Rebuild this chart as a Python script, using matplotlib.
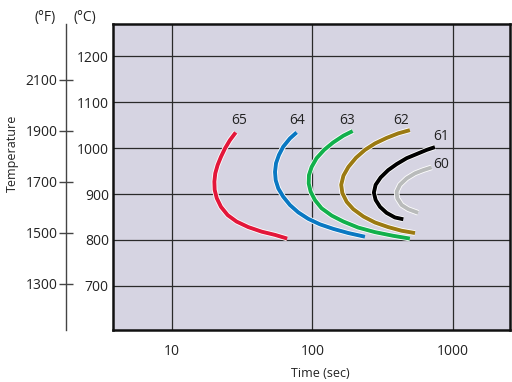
import matplotlib
matplotlib.use('Agg')
import matplotlib.pyplot as plt
import matplotlib.patheffects as pe
import numpy as np

plt.rcParams['font.family'] = ['Open Sans', 'DejaVu Sans']

# TTT curves, time in seconds, temperature in degC
grades = ['65', '64', '63', '62', '61', '60']
colors = ['#e3173a', '#0a78c2', '#12b04c', '#9b7a12', '#000000', '#b9bbbb']

t_65 = [28.5, 25.9, 23.9, 22.4, 21.2, 20.4, 20.1, 20.2, 20.9, 22.4, 25.0,
        28.9, 35.0, 43.6, 54.2, 66.2]
c_65 = [1034, 1017, 999, 981, 963, 945, 927, 909, 891, 872, 854,
        840, 828, 818, 811, 803]

t_64 = [77.2, 69.2, 62.0, 57.8, 55.1, 54.2, 54.8, 57.2, 62.0, 69.2, 79.3,
        93.3, 113, 141, 180, 236]
c_64 = [1034, 1021, 1003, 985, 967, 948, 930, 912, 894, 876, 860,
        846, 834, 824, 815, 807]

t_63 = [193, 166, 140, 121, 107, 98.7, 94.4, 94.0, 97.1, 104, 116,
        137, 166, 211, 278, 375, 492]
c_63 = [1037, 1027, 1012, 996, 978, 959, 941, 923, 905, 887, 869,
        853, 840, 827, 817, 809, 803]

t_62 = [492, 407, 336, 278, 236, 204, 180, 166, 160, 163, 175,
        195, 230, 278, 345, 430, 535]
c_62 = [1039, 1032, 1022, 1010, 996, 979, 959, 940, 920, 902, 883,
        867, 851, 838, 828, 820, 815]

t_61 = [741, 647, 550, 467, 396, 345, 305, 281, 273, 281, 302, 336, 385, 442]
c_61 = [1002, 996, 987, 978, 965, 952, 936, 920, 903, 887, 872, 859, 849, 845]

t_60 = [703, 612, 535, 467, 418, 396, 400, 430, 479, 564]
c_60 = [958, 952, 945, 934, 920, 905, 891, 876, 867, 859]

label_t = [30, 77.5, 177, 428, 822, 822]
label_c = [1059, 1059, 1059, 1059, 1026, 965]

c_ticks = [700, 800, 900, 1000, 1100, 1200]
f_ticks = [1300, 1500, 1700, 1900, 2100]
t_ticks = [10, 100, 1000]


def c2f(c):
    return np.asarray(c) * 9. / 5. + 32.


def f2c(f):
    return (np.asarray(f) - 32.) * 5. / 9.


fig = plt.figure(figsize=(5.12, 3.82), dpi=100)
W, H = 512., 382.
ax = fig.add_axes([113 / W, 1 - 330 / H, (510 - 113) / W, (330 - 24) / H])
ax.set_facecolor('#d6d4e2')

ax.set_xscale('log')
ax.set_xlim(3.83, 2530)
ax.set_ylim(604, 1270)
ax.set_xticks(t_ticks)
ax.set_xticklabels([str(t) for t in t_ticks])
ax.minorticks_off()
ax.set_yticks(c_ticks)
ax.tick_params(axis='both', length=0, labelsize=10, colors='#222222')
ax.tick_params(axis='x', pad=10)
ax.tick_params(axis='y', pad=3)
ax.grid(True, color='#2a2a2a', lw=0.9)
ax.set_axisbelow(True)
for s in ax.spines.values():
    s.set_linewidth(1.8)
    s.set_color('#111111')

series = [(t_65, c_65), (t_64, c_64), (t_63, c_63),
          (t_62, c_62), (t_61, c_61), (t_60, c_60)]
for (t, c), col in zip(series, colors):
    ax.plot(t, c, color=col, lw=2.8, solid_capstyle='butt',
            solid_joinstyle='round',
            path_effects=[pe.Stroke(linewidth=4.0, foreground='white'),
                          pe.Normal()])

for g, lt, lc in zip(grades, label_t, label_c):
    ax.text(lt, lc, g, fontsize=10, color='#222222', ha='center', va='center')

# Fahrenheit scale on a separate spine
sec = ax.secondary_yaxis(-47 / 397., functions=(c2f, f2c))
sec.set_yticks(f_ticks)
sec.spines['left'].set_color('#444444')
sec.spines['left'].set_linewidth(1.0)
sec.tick_params(axis='y', direction='inout', length=10, width=1.0,
                colors='#444444', labelcolor='#222222', labelsize=10, pad=1)

ax.set_xlabel('Time (sec)', fontsize=9, color='#222222', labelpad=4)
ax.xaxis.set_label_coords((320 - 113) / 397., -(367 - 330) / 306.)

fig.text(45 / W, 1 - 18 / H, '(°F)', fontsize=10, color='#222222',
         ha='center', va='center')
fig.text(85 / W, 1 - 18 / H, '(°C)', fontsize=10, color='#222222',
         ha='center', va='center')
fig.text(12 / W, 1 - 153 / H, 'Temperature', fontsize=9, color='#222222',
         ha='center', va='center', rotation=90)

fig.savefig('out.png', dpi=100, facecolor='white')
